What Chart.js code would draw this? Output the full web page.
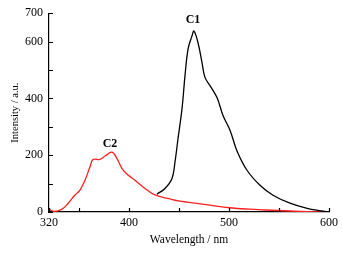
<!DOCTYPE html>
<html>
<head>
<meta charset="utf-8">
<script src="https://cdn.jsdelivr.net/npm/chart.js@4/dist/chart.umd.min.js"></script>
<style>
  html, body { margin: 0; padding: 0; background: #fff; }
  #wrap { width: 343px; height: 254px; }
</style>
</head>
<body>
<div id="wrap"><canvas id="spectrum"></canvas></div>
<script>
// emission spectra
const c1Wavelength = [428, 436, 443, 446, 449, 453, 456, 459, 463, 465, 469, 473, 476, 481, 488, 494, 501, 508, 518, 531, 544, 561, 578, 590, 599];
const c1Intensity  = [63, 83, 118, 176, 258, 363, 480, 573, 620, 637, 596, 526, 474, 445, 403, 340, 288, 215, 147, 94, 59, 31, 13, 5, 1];

const c2Wavelength = [320, 325, 333, 339, 346, 351, 356, 361, 364, 371, 376, 383, 388, 393, 399, 406, 416, 426, 441, 451, 458, 481, 501, 520, 538, 571, 599];
const c2Intensity  = [10, 2, 10, 30, 60, 77, 112, 159, 185, 185, 197, 211, 188, 153, 130, 112, 83, 60, 46, 38, 35, 24, 15, 10, 7, 2, 0];

const xTicks = [320, 350, 400, 450, 500, 550, 600];
const xLabels = [320, 400, 500, 600];
const yTicks = [0, 100, 200, 300, 400, 500, 600, 700];
const yLabels = [0, 200, 400, 600, 700];

const peakLabels = [
  { text: 'C1', x: 464, y: 675 },
  { text: 'C2', x: 381, y: 241 }
];

const serif = "'Liberation Serif', 'Times New Roman', serif";

const toPoints = (xs, ys) => xs.map((x, i) => ({ x: x, y: ys[i] }));

// ticks point into the plot, plus the C1 / C2 captions
const innerTicks = {
  id: 'innerTicks',
  afterDatasetsDraw(chart) {
    const ctx = chart.ctx;
    const { x, y } = chart.scales;
    ctx.save();
    ctx.strokeStyle = '#000';
    ctx.lineWidth = 1.2;
    ctx.beginPath();
    xTicks.forEach(v => {
      const px = Math.round(x.getPixelForValue(v)) + 0.5;
      ctx.moveTo(px, y.bottom);
      ctx.lineTo(px, y.bottom - 4);
    });
    yTicks.forEach(v => {
      const py = Math.round(y.getPixelForValue(v)) + 0.5;
      ctx.moveTo(x.left, py);
      ctx.lineTo(x.left + 4, py);
    });
    ctx.stroke();

    ctx.fillStyle = '#000';
    ctx.font = 'bold 12px ' + serif;
    ctx.textAlign = 'center';
    ctx.textBaseline = 'middle';
    peakLabels.forEach(p => {
      ctx.fillText(p.text, x.getPixelForValue(p.x), y.getPixelForValue(p.y));
    });
    ctx.restore();
  }
};

new Chart(document.getElementById('spectrum'), {
  type: 'line',
  data: {
    datasets: [
      {
        label: 'C1',
        data: toPoints(c1Wavelength, c1Intensity),
        borderColor: '#000000',
        borderWidth: 1.3,
        pointRadius: 0,
        tension: 0.4
      },
      {
        label: 'C2',
        data: toPoints(c2Wavelength, c2Intensity),
        borderColor: '#ff2020',
        borderWidth: 1.3,
        pointRadius: 0,
        tension: 0.4
      }
    ]
  },
  options: {
    responsive: true,
    maintainAspectRatio: false,
    animation: false,
    layout: { padding: { top: 12, right: 14, bottom: 0, left: 0 } },
    plugins: { legend: { display: false }, tooltip: { enabled: false } },
    scales: {
      x: {
        type: 'linear',
        min: 320,
        max: 600,
        afterBuildTicks: s => { s.ticks = xTicks.map(v => ({ value: v })); },
        afterFit: s => { s.height = 42; },
        ticks: {
          color: '#000',
          font: { family: serif, size: 12 },
          padding: 4,
          maxRotation: 0,
          autoSkip: false,
          callback: v => xLabels.includes(v) ? String(v) : ''
        },
        grid: { drawOnChartArea: false, drawTicks: false },
        border: { display: true, color: '#000', width: 1.2 },
        title: {
          display: true,
          text: 'Wavelength / nm',
          color: '#000',
          font: { family: serif, size: 11.5 },
          padding: { top: 0, bottom: 7 }
        }
      },
      y: {
        min: 0,
        max: 700,
        afterBuildTicks: s => { s.ticks = yTicks.map(v => ({ value: v })); },
        afterFit: s => { s.width = 49; },
        ticks: {
          color: '#000',
          font: { family: serif, size: 12 },
          padding: 6,
          autoSkip: false,
          callback: v => yLabels.includes(v) ? String(v) : ''
        },
        grid: { drawOnChartArea: false, drawTicks: false },
        border: { display: true, color: '#000', width: 1.2 },
        title: {
          display: true,
          text: 'Intensity / a.u.',
          color: '#000',
          font: { family: serif, size: 10.5 },
          padding: { top: 9, bottom: 0 }
        }
      }
    }
  },
  plugins: [innerTicks]
});
</script>
</body>
</html>
